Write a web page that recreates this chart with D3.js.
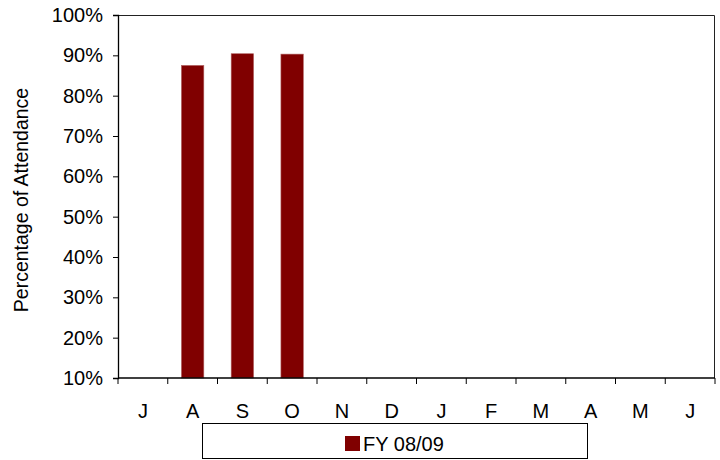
<!DOCTYPE html>
<html>
<head>
<meta charset="utf-8">
<script src="https://cdn.jsdelivr.net/npm/d3@7"></script>
<style>
  body { margin: 0; background: #fff; }
  text { font-family: "Liberation Sans", Arial, sans-serif; }
</style>
</head>
<body>
<script>
// data
var months = ["J", "A", "S", "O", "N", "D", "J2", "F", "M", "A2", "M2", "J3"];
var monthLabels = ["J", "A", "S", "O", "N", "D", "J", "F", "M", "A", "M", "J"];
var attendance = [null, 87.5, 90.4, 90.3, null, null, null, null, null, null, null, null];
var yTicks = [10, 20, 30, 40, 50, 60, 70, 80, 90, 100];
var seriesName = "FY 08/09";

var w = 720, h = 460;
const margin = {top: 15, right: 5, bottom: 82, left: 118};
const width = w - margin.left - margin.right,
    height = h - margin.top - margin.bottom;

const svg = d3.select("body").append("svg")
    .attr("width", w)
    .attr("height", h);

const g = svg.append("g")
    .attr("transform", "translate(" + margin.left + "," + margin.top + ")");

var x = d3.scaleBand()
    .domain(months)
    .range([0, width])
    .paddingInner(0.55)
    .paddingOuter(0.275);

var xb = d3.scaleBand().domain(months).range([0, width]);

var y = d3.scaleLinear()
    .domain([10, 100])
    .range([height, 0]);

// plot border (top & right)
g.append("path")
    .attr("d", "M0,0.5H" + (width - 0.5) + "V" + height)
    .attr("fill", "none")
    .attr("stroke", "#222")
    .attr("stroke-width", 1);

// bars
g.selectAll(".bar")
    .data(months.map(function(m, i) { return {m: m, v: attendance[i]}; }).filter(function(d) { return d.v != null; }))
    .enter().append("rect")
    .attr("class", "bar")
    .attr("x", d => x(d.m))
    .attr("width", x.bandwidth())
    .attr("y", d => y(d.v))
    .attr("height", d => height - y(d.v))
    .attr("fill", "#800000")
    .attr("stroke", "#b06060")
    .attr("stroke-width", 0.6);

// y axis
var yAxis = g.append("g")
    .call(d3.axisLeft(y).tickValues(yTicks).tickSize(5).tickFormat(d => d + "%"));
yAxis.select(".domain").attr("stroke", "#000").attr("stroke-width", 1.3);
yAxis.selectAll(".tick line").attr("stroke", "#000");
yAxis.selectAll(".tick text")
    .attr("x", -15)
    .attr("font-size", "20px")
    .attr("font-family", "Liberation Sans, Arial, sans-serif")
    .attr("fill", "#000");

// x axis: baseline + ticks between categories
var xg = g.append("g").attr("transform", "translate(0," + height + ")");
xg.append("line")
    .attr("x1", 0).attr("x2", width)
    .attr("stroke", "#000").attr("stroke-width", 1.3);
xg.selectAll(".xt")
    .data(months.concat(["end"]))
    .enter().append("line")
    .attr("x1", (d, i) => i < months.length ? xb(d) : width)
    .attr("x2", (d, i) => i < months.length ? xb(d) : width)
    .attr("y1", 0).attr("y2", 6)
    .attr("stroke", "#000");
xg.selectAll(".xl")
    .data(months)
    .enter().append("text")
    .attr("x", d => xb(d) + xb.bandwidth() / 2)
    .attr("y", 40)
    .attr("text-anchor", "middle")
    .attr("font-size", "20px")
    .attr("fill", "#000")
    .text((d, i) => monthLabels[i]);

// y axis title
svg.append("text")
    .attr("transform", "translate(28,200) rotate(-90)")
    .attr("text-anchor", "middle")
    .attr("font-size", "19.5px")
    .attr("fill", "#000")
    .text("Percentage of Attendance");

// legend
var lg = svg.append("g").attr("transform", "translate(202,423)");
lg.append("rect")
    .attr("x", 0.5).attr("y", 0.5)
    .attr("width", 385).attr("height", 35)
    .attr("fill", "#fff")
    .attr("stroke", "#000");
lg.append("rect")
    .attr("x", 143).attr("y", 13)
    .attr("width", 15).attr("height", 15)
    .attr("fill", "#800000");
lg.append("text")
    .attr("x", 161).attr("y", 28)
    .attr("font-size", "20px")
    .attr("fill", "#000")
    .text(seriesName);
</script>
</body>
</html>
